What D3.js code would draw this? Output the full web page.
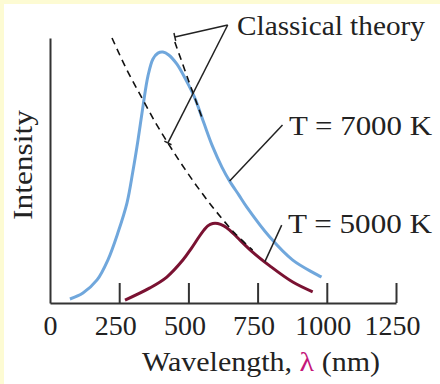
<!DOCTYPE html>
<html>
<head>
<meta charset="utf-8">
<script src="https://cdn.jsdelivr.net/npm/d3@7.9.0/dist/d3.min.js"></script>
<style>
  body { margin: 0; background: #fff; }
  svg { display: block; font-family: "Liberation Serif", "DejaVu Serif", serif; }
</style>
</head>
<body>
<svg id="chart" width="440" height="384"></svg>
<script>
// wavelength (nm) / relative intensity
const hotWave = [72, 119, 170, 209, 245, 278, 299, 318, 336, 354, 372, 390, 408, 429, 458, 491, 523, 556, 588, 621, 649, 682, 711, 794, 877, 981];
const hotInt  = [1.5, 3.8, 8.7, 16.2, 26.4, 37.7, 49.4, 61.5, 74.3, 85.7, 92.1, 94.3, 94.7, 93.6, 90.2, 84.2, 77.4, 67.9, 58.9, 51.3, 46.0, 40.8, 36.2, 24.9, 16.2, 9.8];

const coolWave = [271, 361, 422, 480, 512, 538, 556, 570, 588, 606, 628, 649, 675, 732, 794, 877, 949];
const coolInt  = [1.1, 5.7, 9.8, 16.2, 20.8, 24.9, 27.5, 29.1, 30.0, 30.0, 29.1, 27.5, 24.9, 19.2, 14.0, 7.9, 4.2];

// classical (Rayleigh-Jeans) dashed curves
const classicalCoolWave = [224, 278, 332, 382, 433, 487, 541, 602, 667, 732];
const classicalCoolInt  = [100, 87.9, 77.4, 67.9, 59.2, 50.6, 42.6, 34.3, 26.4, 20.0];
const classicalHotWave = [451, 501, 552];
const classicalHotInt  = [98.5, 83.8, 69.1];

const xTicks = [0, 250, 500, 750, 1000, 1250];

const svg = d3.select("#chart");

// pale yellow frame at top and left
svg.append("rect").attr("width", 440).attr("height", 384).attr("fill", "#fdfbd3");
svg.append("rect").attr("x", 4).attr("y", 4).attr("width", 436).attr("height", 380).attr("fill", "#fff");

const x = d3.scaleLinear().domain([0, 1250]).range([50, 396]);
const y = d3.scaleLinear().domain([0, 100]).range([303, 38]);

// x axis with inward ticks
const xAxis = svg.append("g")
  .attr("transform", `translate(0,${y(0)})`)
  .call(d3.axisBottom(x).tickValues(xTicks).tickFormat(d3.format("d"))
    .tickSizeInner(-20).tickSizeOuter(0).tickPadding(12));
xAxis.select(".domain").attr("stroke", "#333").attr("stroke-width", 2);
xAxis.selectAll(".tick line").attr("stroke", "#333").attr("stroke-width", 2)
  .filter(d => d === 0).remove();
xAxis.selectAll(".tick text")
  .attr("font-size", 28).attr("fill", "#222")
  .attr("font-family", "Liberation Serif, serif")
  .attr("dx", d => d === 0 ? 0 : -4);

// y axis, plain line
const yAxis = svg.append("g")
  .attr("transform", `translate(${x(0)},0)`)
  .call(d3.axisLeft(y).tickValues([]).tickSizeOuter(0));
yAxis.select(".domain").attr("stroke", "#333").attr("stroke-width", 2);

const line = d3.line().x(d => x(d[0])).y(d => y(d[1])).curve(d3.curveCatmullRom.alpha(0.5));

svg.append("path")
  .attr("d", line(d3.zip(hotWave, hotInt)))
  .attr("fill", "none").attr("stroke", "#70a7dc").attr("stroke-width", 3);

svg.append("path")
  .attr("d", line(d3.zip(coolWave, coolInt)))
  .attr("fill", "none").attr("stroke", "#7a1232").attr("stroke-width", 3);

[[classicalCoolWave, classicalCoolInt], [classicalHotWave, classicalHotInt]].forEach(([w, v]) => {
  svg.append("path")
    .attr("d", line(d3.zip(w, v)))
    .attr("fill", "none").attr("stroke", "#111").attr("stroke-width", 1.6)
    .attr("stroke-dasharray", "7,5");
});

// leader lines (data coordinates)
const classicalApex = [642, 104.9];
const classicalEnds = [[451, 100.4], [426, 60.4]];
const hotLeader = [[840, 67.2], [649, 46.0]];
const coolLeader = [[837, 29.4], [776, 15.5]];

const lead = svg.append("g").attr("stroke", "#222").attr("stroke-width", 1.5).attr("fill", "none");
classicalEnds.forEach(e => {
  const x1 = x(classicalApex[0]), y1 = y(classicalApex[1]);
  const x2 = x(e[0]), y2 = y(e[1]);
  lead.append("line").attr("x1", x1).attr("y1", y1).attr("x2", x2).attr("y2", y2);
  // small bar across the end
  const len = Math.hypot(x2 - x1, y2 - y1);
  const nx = -(y2 - y1) / len * 4, ny = (x2 - x1) / len * 4;
  lead.append("line").attr("x1", x2 - nx).attr("y1", y2 - ny).attr("x2", x2 + nx).attr("y2", y2 + ny);
});
[hotLeader, coolLeader].forEach(l => {
  lead.append("line")
    .attr("x1", x(l[0][0])).attr("y1", y(l[0][1]))
    .attr("x2", x(l[1][0])).attr("y2", y(l[1][1]));
});

// labels
const label = (txt, px, py, w) => svg.append("text")
  .attr("x", px).attr("y", py).attr("font-size", 27).attr("fill", "#222")
  .attr("textLength", w).attr("lengthAdjust", "spacingAndGlyphs").text(txt);

label("Classical theory", 237, 35, 188);
label("T = 7000 K", 289, 135, 143);
label("T = 5000 K", 288, 233, 144);

const xl = svg.append("text")
  .attr("x", 142).attr("y", 371).attr("font-size", 27).attr("fill", "#222")
  .attr("textLength", 238).attr("lengthAdjust", "spacingAndGlyphs");
xl.append("tspan").text("Wavelength, ");
xl.append("tspan").attr("fill", "#c4177a").text("λ");
xl.append("tspan").text(" (nm)");

svg.append("text")
  .attr("transform", "translate(32,165) rotate(-90)")
  .attr("text-anchor", "middle").attr("font-size", 27).attr("fill", "#222")
  .attr("textLength", 110).attr("lengthAdjust", "spacingAndGlyphs")
  .text("Intensity");
</script>
</body>
</html>
